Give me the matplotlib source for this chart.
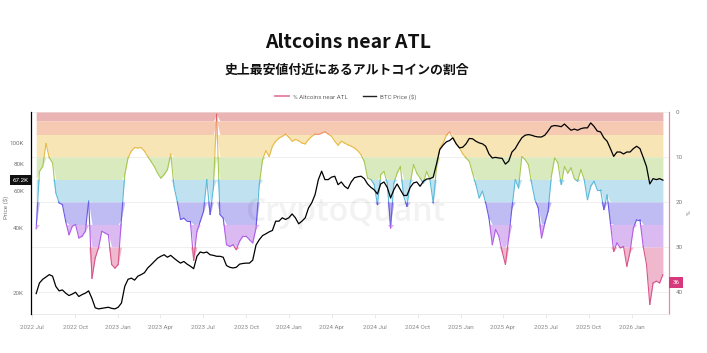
import numpy as np
import pandas as pd
import matplotlib
matplotlib.use("Agg")
import matplotlib.pyplot as plt
import matplotlib.dates as mdates
import matplotlib.transforms as mtransforms
from matplotlib.collections import LineCollection
from matplotlib.lines import Line2D
from matplotlib.ticker import NullLocator

plt.rcParams['font.family'] = ['Roboto', 'DejaVu Sans']

# ---------------- data (weekly samples) ----------------
dates = pd.date_range('2022-07-10', periods=192, freq='7D')

pct_near_atl = np.array([
    26, 13.2, 12.1, 7.0, 10.2, 11.3, 18, 20.2, 20.6, 24.3,
    27.3, 25.4, 25, 28, 27.6, 26.5, 19.7, 37, 32.4, 30.2,
    26.5, 26.9, 27.3, 33.9, 34.7, 33.9, 23.6, 13.9, 10.2, 8.7,
    7.9, 8.0, 7.9, 8.7, 9.9, 11, 12.1, 13.6, 14.7, 13.9,
    12.8, 9.3, 16.5, 19.9, 23.9, 23.6, 24.3, 24.3, 33, 26.5,
    24.3, 22.1, 15, 22.8, 16.9, 0.5, 22.8, 23.6, 29.5, 29.9,
    29.5, 30.6, 28.7, 27.6, 27.6, 28.4, 29.1, 25.8, 16.1, 10.6,
    8.6, 9.9, 7.6, 6.5, 5.8, 5.4, 4.9, 5.6, 6.5, 6.1,
    6.4, 6.9, 7.1, 6.1, 5.4, 4.9, 5.0, 4.7, 4.4, 4.9,
    5.4, 6.5, 7.4, 6.5, 6.9, 7.3, 7.6, 8.0, 8.6, 9.5,
    11, 14.7, 15, 16.1, 20.6, 13.9, 13.2, 15.8, 25.8, 15.8,
    13.6, 12.1, 18.7, 21, 15.8, 11.7, 13.6, 14.7, 15.8, 13.2,
    15, 20.2, 12.4, 8.1, 6.9, 5.2, 4.4, 5.9, 7.1, 8.0,
    9.3, 10.2, 11, 13.6, 16.1, 19.1, 17.6, 20.2, 23.6, 29.5,
    26.1, 27.6, 31, 33.9, 28, 21.3, 15, 16.9, 9.9, 10.6,
    11.7, 15.8, 19.5, 21.3, 28, 24.7, 22.1, 14.3, 10.2, 11.3,
    16.1, 12.1, 13.6, 12.4, 14.8, 15.4, 12.8, 15, 19.5, 16.5,
    15.4, 17.3, 17.3, 21.7, 18.4, 24.7, 31, 29.1, 30.2, 29.9,
    34.3, 31, 25.8, 23.9, 23.9, 29.9, 33.9, 42.8, 38, 37.6,
    38, 36.1,
])

btc_price_k = np.array([
    19.8, 22.2, 23.1, 23.7, 24.3, 23.9, 21.4, 20.4, 20.6, 19.9,
    19.4, 19.7, 20.1, 19.2, 19.6, 19.9, 20.4, 18.8, 17.0, 16.8,
    16.9, 17.0, 17.1, 16.9, 16.8, 17.1, 17.9, 21.4, 23.1, 23.4,
    22.9, 23.9, 24.3, 24.8, 26.1, 27.0, 28.0, 29.0, 29.6, 30.1,
    29.3, 29.9, 29.0, 28.2, 27.5, 28.0, 27.2, 26.6, 25.9, 29.6,
    31.0, 30.7, 31.0, 30.1, 29.9, 29.6, 29.6, 29.3, 26.8, 26.3,
    26.1, 26.3, 27.2, 27.4, 27.5, 27.5, 28.4, 33.4, 35.4, 37.0,
    37.7, 38.5, 39.1, 43.2, 43.2, 44.8, 44.0, 44.8, 46.7, 44.8,
    42.0, 43.2, 44.8, 49.8, 52.7, 57.5, 67.6, 74.0, 67.6, 67.6,
    69.4, 70.1, 64.0, 65.9, 62.9, 61.3, 65.9, 69.0, 69.7, 70.1,
    68.3, 64.5, 62.2, 60.6, 57.9, 64.5, 65.9, 62.2, 55.5, 60.6,
    64.5, 60.6, 57.0, 57.0, 62.2, 65.2, 65.9, 62.9, 66.4, 68.0,
    68.3, 69.4, 79.9, 93.4, 97.9, 101.5, 103, 106, 99.4, 95.1,
    95.8, 99.4, 105.3, 104.9, 102.2, 100.4, 99.4, 96.8, 89.1, 85.3,
    85.9, 85.3, 85.0, 79.9, 82.4, 91.0, 94.4, 100.4, 106, 109,
    109.8, 109, 107.7, 107, 107, 109, 114, 120, 121, 120.5,
    119.5, 123, 118.8, 115, 116.5, 115, 117, 118, 118, 124.5,
    120, 114, 113, 106, 102.2, 94.4, 86.8, 91.0, 91.0, 89.1,
    91.0, 91.0, 94.4, 96.8, 94.4, 85.9, 77.8, 64.5, 68.3, 67.6,
    68.3, 67.2,
])

band_edges = [0, 2, 5, 10, 15, 20, 25, 30, 45]
band_fill = ['#ebb4b4', '#f6cab2', '#f7e5b6', '#d9eabf', '#c0e2f0',
             '#bfbbf3', '#dbbaf2', '#f0b8cd']
band_line = ['#e06262', '#f0936a', '#e8bb48', '#a8c852', '#5bbad9',
             '#6a5ae6', '#b25ee6', '#d9558a']

pct_ticks = [0, 10, 20, 30, 40]
price_ticks = [20000, 40000, 60000, 80000, 100000]
price_labels = ['20K', '40K', '60K', '80K', '100K']
last_price_label = '67.2K'
last_pct_label = '36'

# ---------------- figure ----------------
W, H = 707, 353
fig = plt.figure(figsize=(W / 100, H / 100), dpi=100)
fig.patch.set_facecolor('white')

ax = fig.add_axes([31 / W, 1 - 314 / H, (669 - 31) / W, (314 - 112) / H])
ax2 = ax.twinx()

xn = mdates.date2num(dates)

# rainbow bands between 0 and the value
for k in range(len(band_fill)):
    lo, hi = band_edges[k], band_edges[k + 1]
    ax.fill_between(xn, lo, np.clip(pct_near_atl, lo, hi), color=band_fill[k],
                    lw=0, zorder=1)

# colour-by-level line
segs, cols = [], []
for k in range(len(xn) - 1):
    x0, y0, x1, y1 = xn[k], pct_near_atl[k], xn[k + 1], pct_near_atl[k + 1]
    pts = [(x0, y0)]
    if y1 != y0:
        bs = [b for b in band_edges[1:-1] if min(y0, y1) < b < max(y0, y1)]
        bs = sorted(bs, reverse=(y1 < y0))
        for b in bs:
            t = (b - y0) / (y1 - y0)
            pts.append((x0 + t * (x1 - x0), b))
    pts.append((x1, y1))
    for a, b in zip(pts[:-1], pts[1:]):
        mid = (a[1] + b[1]) / 2
        idx = int(np.clip(np.searchsorted(band_edges, mid) - 1, 0, len(band_line) - 1))
        segs.append([a, b])
        cols.append(band_line[idx])
ax.add_collection(LineCollection(segs, colors=cols, linewidths=0.8, zorder=3,
                                 capstyle='round', joinstyle='round'))

ax.set_ylim(44.9, 0)
ax.set_xlim(mdates.date2num(pd.Timestamp('2022-06-29')),
            mdates.date2num(pd.Timestamp('2026-03-21')))

# BTC price
ax2.plot(xn, btc_price_k * 1000, color='black', lw=0.9, zorder=4)
ax2.set_yscale('log')
ax2.set_ylim(15900, 140000)
ax2.set_yticks(price_ticks)
ax2.set_yticklabels(price_labels)
ax2.yaxis.set_minor_locator(NullLocator())
ax2.yaxis.tick_left()
ax2.tick_params(axis='y', length=0, pad=5, labelsize=4.5, labelcolor='#777777')

# percent axis on the right
ax.yaxis.tick_right()
ax.set_yticks(pct_ticks)
ax.set_yticklabels([str(t) for t in pct_ticks])
ax.tick_params(axis='y', length=0, pad=5, labelsize=4.5, labelcolor='#777777')
ax.yaxis.grid(True, color='#eeeeee', lw=0.6, zorder=0)
ax.set_axisbelow(True)

# axis titles
fig.text(6 / W, 1 - 207 / H, 'Price ($)', rotation=90, ha='center', va='center',
         fontsize=4.5, color='#777777')
fig.text(689 / W, 1 - 213 / H, '%', rotation=90, ha='center', va='center',
         fontsize=4.5, color='#777777')

# x axis
xt = pd.date_range('2022-07-01', '2026-01-01', freq='QS')
ax.set_xticks(mdates.date2num(xt))
ax.set_xticklabels([d.strftime('%Y %b') for d in xt])
ax.tick_params(axis='x', length=3, width=0.5, color='#e2e2e2', pad=5,
               labelsize=4.5, labelcolor='#888888')

for s in ['top', 'left']:
    ax.spines[s].set_visible(False)
ax.spines['bottom'].set_color('#e6e6e6')
ax.spines['bottom'].set_linewidth(0.6)
ax.spines['right'].set_color('#e58aab')
ax.spines['right'].set_linewidth(0.9)
for s in ['top', 'right', 'bottom']:
    ax2.spines[s].set_visible(False)
ax2.spines['left'].set_color('black')
ax2.spines['left'].set_linewidth(0.9)

# last-value boxes
tr2 = mtransforms.blended_transform_factory(ax2.transAxes, ax2.transData)
ax2.text(-0.004, btc_price_k[-1] * 1000, last_price_label, transform=tr2,
         ha='right', va='center', fontsize=4.5, color='white', zorder=10,
         bbox=dict(boxstyle='square,pad=0.45', fc='#111111', ec='none'))
tr1 = mtransforms.blended_transform_factory(ax.transAxes, ax.transData)
ax.text(1.006, 37.9, last_pct_label, transform=tr1, ha='left', va='center',
        fontsize=4.5, color='white', zorder=10, clip_on=False,
        bbox=dict(boxstyle='square,pad=0.55', fc='#d63a7c', ec='none'))

# watermark
fig.text(345 / W, 1 - 212 / H, 'CryptoQuant', fontsize=23, color='black',
         alpha=0.05, ha='center', va='center', family=['Open Sans', 'DejaVu Sans'],
         weight='semibold')

# legend
handles = [Line2D([], [], color='#e87ba5', lw=1.3),
           Line2D([], [], color='#222222', lw=1.0)]
fig.legend(handles, ['% Altcoins near ATL', 'BTC Price ($)'], loc='center',
           bbox_to_anchor=(346 / W, 1 - 97 / H), ncol=2, frameon=False,
           fontsize=4.5, handlelength=2.2, handletextpad=0.6,
           columnspacing=2.4, labelcolor='#666666')

# titles
fig.text(348 / W, 1 - 42 / H, 'Altcoins near ATL', ha='center', va='center',
         fontsize=14, weight='bold', family=['Noto Sans CJK JP', 'DejaVu Sans'],
         color='#111111')
fig.text(347 / W, 1 - 70 / H, '史上最安値付近にあるアルトコインの割合', ha='center',
         va='center', fontsize=9.3, weight='bold',
         family=['Noto Sans CJK JP', 'DejaVu Sans'], color='#111111')

fig.savefig('out.png', dpi=100, facecolor='white')
